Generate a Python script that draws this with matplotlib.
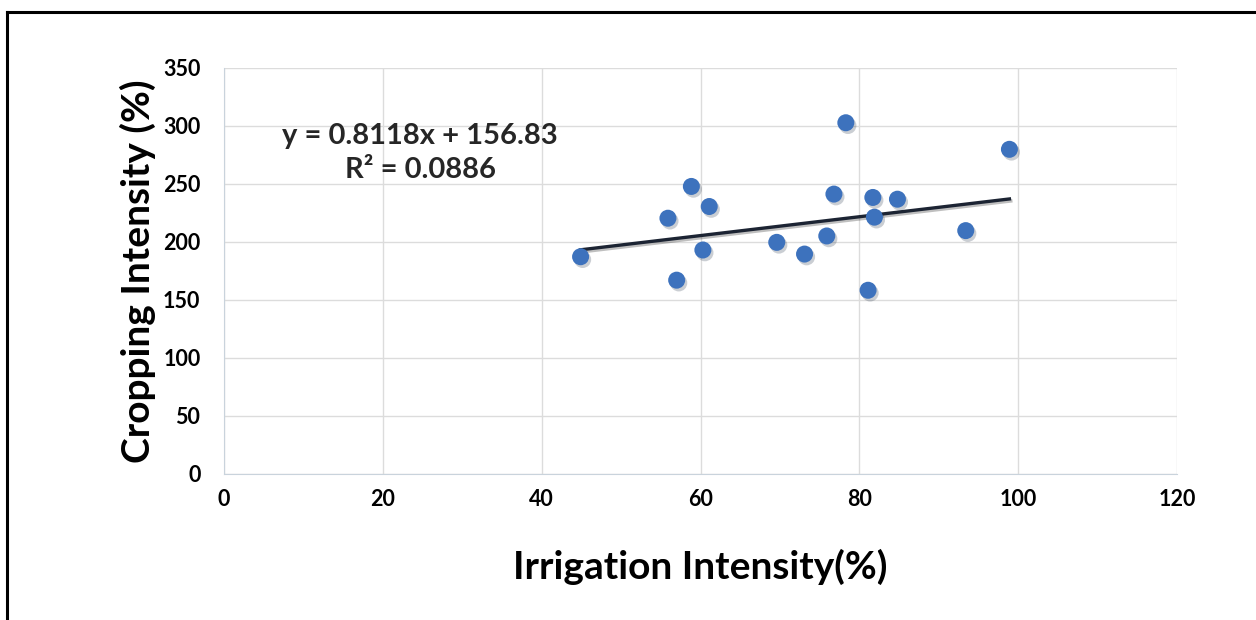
import matplotlib.pyplot as plt
import matplotlib.patheffects as pe
from matplotlib.lines import Line2D

# dati
irrigation = [44.9, 55.9, 57.0, 58.85, 60.3, 61.1, 69.6, 73.1, 75.9, 76.8,
              78.3, 81.1, 81.7, 81.9, 84.8, 93.4, 98.9]
cropping = [187.3, 220.5, 167.1, 247.9, 193.1, 230.6, 199.7, 189.6, 205.2, 241.3,
            302.8, 158.4, 238.4, 221.4, 236.9, 209.8, 279.9]
slope = 0.8118
intercept = 156.83
r2 = 0.0886

plt.rcParams['font.family'] = ['Lato', 'DejaVu Sans']

fig = plt.figure(figsize=(12.56, 6.2), dpi=100)
ax = fig.add_axes([224 / 1256, 1 - 474 / 620, (1177 - 224) / 1256, (474 - 68) / 620])

# bordo esterno (solo sopra e a sinistra)
fig.add_artist(Line2D([7 / 1256, 1], [1 - 12 / 620, 1 - 12 / 620], color='black', lw=2.2,
                      transform=fig.transFigure))
fig.add_artist(Line2D([7 / 1256, 7 / 1256], [0, 1 - 12 / 620], color='black', lw=2.2,
                      transform=fig.transFigure))

# linea di tendenza
xs = [min(irrigation), max(irrigation)]
ys = [slope * x + intercept for x in xs]
ax.plot(xs, ys, color='#1c2433', lw=2.4, zorder=3,
        path_effects=[pe.SimpleLineShadow(offset=(1, -1.5), alpha=0.25), pe.Normal()])

# punti
ax.scatter(irrigation, cropping, s=150, color='#3d72bd', zorder=4, linewidths=0,
           path_effects=[pe.SimplePatchShadow(offset=(1.5, -2), alpha=0.22), pe.Normal()])

ax.text(24.7, 291, 'y = %.4fx + %.2f' % (slope, intercept), ha='center', va='center',
        fontsize=21, fontweight='bold', color='#262626')
ax.text(24.7, 262, 'R² = %.4f' % r2, ha='center', va='center',
        fontsize=21, fontweight='bold', color='#262626')

ax.set_xlim(0, 120)
ax.set_ylim(0, 350)
ax.set_xticks(range(0, 121, 20))
ax.set_yticks(range(0, 351, 50))
ax.grid(True, color='#dcdcdc', lw=1)
ax.set_axisbelow(True)
for s in ['top', 'right']:
    ax.spines[s].set_visible(False)
for s in ['left', 'bottom']:
    ax.spines[s].set_color('#c9d3dc')
ax.tick_params(axis='x', length=0, labelsize=15.5, pad=11)
ax.tick_params(axis='y', length=0, labelsize=15.5, pad=17)
for lab in ax.get_xticklabels() + ax.get_yticklabels():
    lab.set_fontweight('bold')

ax.set_xlabel('Irrigation Intensity(%)', fontsize=28, fontweight='bold', labelpad=28)
ax.set_ylabel('Cropping Intensity (%)', fontsize=28, fontweight='bold', labelpad=5)

fig.savefig('out.png', dpi=100)
